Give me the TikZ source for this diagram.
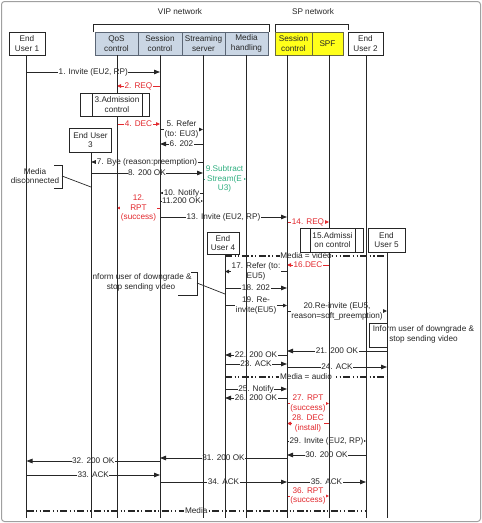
\documentclass[tikz,border=0pt]{standalone}
\usepackage{fontspec}
\setmainfont{Liberation Sans}
\usetikzlibrary{arrows.meta}

\definecolor{ink}{HTML}{262626}
\definecolor{msgred}{HTML}{E2282D}
\definecolor{msggreen}{HTML}{2FAF80}
\definecolor{vipfill}{HTML}{CAD6E4}
\definecolor{vipedge}{HTML}{5B6675}
\definecolor{spfill}{HTML}{FFFF1A}
\definecolor{spedge}{HTML}{6A6A40}
\definecolor{framegray}{HTML}{A0A0A0}

\tikzset{
  every node/.style={font=\fontsize{8.2}{9.8}\selectfont},
  userbox/.style={draw=ink, fill=white, line width=0.8pt, minimum height=23pt, inner sep=0pt, align=center},
  vipbox/.style={draw=vipedge, fill=vipfill, line width=0.8pt, minimum height=23pt, inner sep=0pt, align=center},
  spbox/.style={draw=spedge, fill=spfill, line width=0.8pt, minimum height=23pt, inner sep=0pt, align=center},
  netline/.style={line width=0.8pt},
  lifeline/.style={line width=0.9pt},
  msgline/.style={line width=0.8pt, -{Triangle[length=6pt,width=4.5pt]}},
  smallhead/.style={-{Triangle[length=4pt,width=3.5pt]}},
  redmsg/.style={color=msgred, -{Triangle[length=4pt,width=3.5pt]}},
  greenmsg/.style={color=msggreen, -{Triangle[length=4pt,width=3.5pt]}},
  msglabel/.style={fill=white, inner sep=0.6pt, align=center},
  mediabar/.style={line width=1.4pt, dash pattern=on 7pt off 2.5pt on 1.2pt off 2.5pt on 1.2pt off 2.5pt},
  medialabel/.style={fill=white, inner sep=0.8pt},
  procbox/.style={draw=ink, fill=white, line width=0.8pt},
  procinner/.style={draw=ink, line width=0.8pt, inner sep=0pt, align=center},
  note/.style={align=center, inner sep=0pt},
  noteline/.style={line width=0.7pt},
}

% one message: [style]{from lifeline}{to lifeline}{y}{label}
\newcommand{\seqmsg}[5][]{%
  \draw[msgline,#1] (#2 |- 0,#4) -- node[msglabel] {#5} (#3 |- 0,#4);}

\begin{document}
\begin{tikzpicture}[x=1pt, y=-1pt, color=ink]
\useasboundingbox (0,0) rectangle (482,523);
\draw[framegray, line width=1pt, rounded corners=3pt] (1.5,1.5) rectangle (480.5,521.5);

% network groupings
\node (vipnet) at (180,12) {VIP network};
\node (spnet) at (313,12) {SP network};
\draw[netline] (93,32) -- (93,24) -- (269,24) -- (269,32);
\draw[netline] (275,32) -- (275,24) -- (348,24) -- (348,30);

% participants
\node[userbox, minimum width=36pt] (eu1) at (27,43.5) {End\\User 1};
\node[vipbox, minimum width=43pt] (qos) at (116.5,43.5) {QoS\\control};
\node[vipbox, minimum width=44pt] (sc) at (160,43.5) {Session\\control};
\node[vipbox, minimum width=43pt] (ss) at (203.5,43.5) {Streaming\\server};
\node[vipbox, minimum width=43pt] (mh) at (246.5,43.5) {Media\\handling};
\node[spbox, minimum width=37pt] (spsc) at (293.5,43.5) {Session\\control};
\node[spbox, minimum width=31pt] (spf) at (327.5,43.5) {SPF};
\node[userbox, minimum width=35pt] (eu2) at (365.5,43.5) {End\\User 2};
\node[userbox, minimum width=42pt, minimum height=24pt] (eu3) at (90.5,140) {End User\\3};
\node[userbox, minimum width=32pt, minimum height=22pt] (eu4) at (223,243) {End\\User 4};
\node[userbox, minimum width=37pt, minimum height=24pt] (eu5) at (386.5,240) {End\\User 5};

% lifeline heads
\coordinate (L1) at (26.5,55);
\coordinate (LQ) at (117,55);
\coordinate (LS) at (160,55);
\coordinate (LT) at (203,55);
\coordinate (LM) at (246,55);
\coordinate (LP) at (287,55);
\coordinate (LF) at (329,55);
\coordinate (L2) at (366,55);
\coordinate (L3) at (91,152);
\coordinate (L4) at (225,254);
\coordinate (L5) at (387,252);

% messages
\seqmsg{L1}{LS}{72}{1. Invite (EU2, RP)}
\seqmsg[redmsg]{LS}{LQ}{86}{2. REQ}
\seqmsg[redmsg]{LQ}{LS}{124}{4. DEC}
\seqmsg[smallhead]{LS}{LT}{129.5}{5. Refer\\(to: EU3)}
\seqmsg{LT}{LS}{144}{6. 202}
\seqmsg{LT}{L3}{162}{7. Bye (reason:preemption)}
\seqmsg{L3}{LT}{173}{8. 200 OK}
\seqmsg[greenmsg]{LT}{LM}{179}{9.Subtract\\Stream(E\\U3)}
\seqmsg{LT}{LS}{193}{10. Notify}
\seqmsg[smallhead]{LS}{LT}{201}{11.200 OK}
\seqmsg[redmsg]{LS}{LQ}{208}{12.\\RPT\\(success)}
\seqmsg{LS}{LP}{217}{13. Invite (EU2, RP)}
\seqmsg[redmsg]{LP}{LF}{222}{14. REQ}
\seqmsg[redmsg]{LF}{LP}{265}{16.DEC}
\seqmsg[smallhead]{LP}{L4}{271.5}{17. Refer (to:\\EU5)}
\seqmsg{L4}{LP}{288}{18. 202}
\seqmsg[smallhead]{L4}{LP}{305.5}{19. Re-\\invite(EU5)}
\seqmsg[smallhead]{LP}{L5}{311}{20.Re-invite (EU5,\\reason=soft\_preemption)}
\seqmsg{L5}{LP}{351}{21. 200 OK}
\seqmsg{LP}{L4}{355}{22. 200 OK}
\seqmsg{L4}{LP}{364}{23. ACK}
\seqmsg{LP}{L5}{367}{24. ACK}
\seqmsg{L4}{LP}{389}{25. Notify}
\seqmsg{LP}{L4}{398}{26. 200 OK}
\seqmsg[redmsg]{LP}{LF}{403.5}{27. RPT\\(success)}
\seqmsg[redmsg]{LF}{LP}{423.5}{28. DEC\\(install)}
\seqmsg[smallhead]{LP}{L2}{441}{29. Invite (EU2, RP)}
\seqmsg{L2}{LP}{455}{30. 200 OK}
\seqmsg{LP}{LS}{458}{31. 200 OK}
\seqmsg{LS}{L1}{461}{32. 200 OK}
\seqmsg{L1}{LS}{475}{33. ACK}
\seqmsg{LS}{LP}{482}{34. ACK}
\seqmsg{LP}{L2}{482}{35. ACK}
\seqmsg[redmsg]{LP}{LF}{496}{36. RPT\\(success)}

% media streams
\draw[mediabar] (L4 |- 0,256) -- node[medialabel] {Media = video} (L5 |- 0,256);
\draw[mediabar] (L4 |- 0,377) -- node[medialabel] {Media = audio} (L5 |- 0,377);
\draw[mediabar] (L1 |- 0,511) -- node[medialabel] {Media} (L2 |- 0,511);

% lifelines
\foreach \p in {L1,LQ,LS,LT,LM,LP,LF,L2,L3,L4,L5}
  \draw[lifeline] (\p) -- (\p |- 0,518);

% admission control steps
\draw[procbox] (80,93) rectangle (149,116);
\node[procinner, minimum width=50pt, minimum height=23pt] (adm3) at (117,104.5) {3.Admission\\control};
\draw[procbox] (300,228) rectangle (363,252);
\node[procinner, minimum width=45pt, minimum height=24pt] (adm15) at (332.5,240) {15.Admissi\\on control};

% annotations
\node[note] (ndisc) at (35,176) {Media\\disconnected};
\draw[noteline] (54,165) -- (62,165) -- (62,188) -- (54,188);
\coordinate (ndiscA) at (62,176);
\draw[noteline] (ndiscA) -- (L3 |- 0,187);

\node[note] (ninfo4) at (141,282) {Inform user of downgrade \&\\stop sending video};
\draw[noteline] (191,272) -- (197,272) -- (197,295) -- (178,295);
\coordinate (ninfo4A) at (197,283);
\draw[noteline] (ninfo4A) -- (L4 |- 0,294);

\node[note] (ninfo5) at (423.5,334) {Inform user of downgrade \&\\stop sending video};
\draw[noteline] (L5 |- 0,323) -- (369,323) -- (369,347) -- (L5 |- 0,347);
\end{tikzpicture}
\end{document}
